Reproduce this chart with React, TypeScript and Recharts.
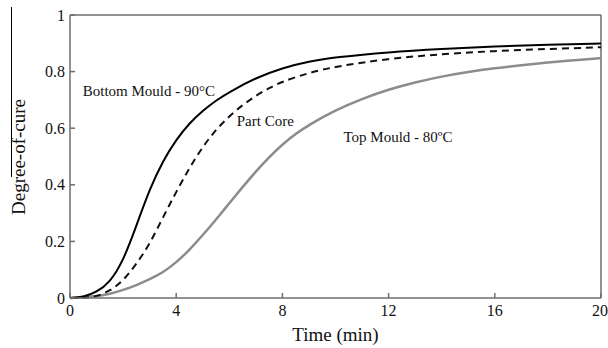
import {
  LineChart,
  Line,
  XAxis,
  YAxis,
  ReferenceLine,
  ReferenceDot,
  Label,
} from "recharts";

// time (min) and degree-of-cure
const bottomTime = [0, 0.5, 1, 1.5, 2, 2.5, 3, 3.5, 4, 4.5, 5, 5.5, 6, 7, 8, 9, 10, 12, 14, 16, 18, 20];
const bottomCure = [0, 0.003, 0.02, 0.055, 0.13, 0.255, 0.385, 0.485, 0.56, 0.618, 0.662, 0.698, 0.728, 0.778, 0.813, 0.836, 0.851, 0.869, 0.88, 0.889, 0.895, 0.899];

const coreTime = [0, 0.5, 1, 1.5, 2, 2.5, 3, 3.5, 4, 4.5, 5, 5.5, 6, 6.5, 7, 7.5, 8, 9, 10, 12, 14, 16, 18, 20];
const coreCure = [0, 0, 0.005, 0.025, 0.06, 0.12, 0.19, 0.285, 0.375, 0.46, 0.535, 0.595, 0.643, 0.682, 0.715, 0.742, 0.765, 0.796, 0.818, 0.846, 0.862, 0.873, 0.88, 0.886];

const topTime = [0, 1, 1.5, 2, 2.5, 3, 3.5, 4, 4.5, 5, 5.5, 6, 6.5, 7, 7.5, 8, 8.5, 9, 10, 11, 12, 13, 14, 15, 16, 17, 18, 19, 20];
const topCure = [0, 0.006, 0.014, 0.028, 0.045, 0.066, 0.09, 0.125, 0.17, 0.222, 0.277, 0.335, 0.392, 0.447, 0.498, 0.543, 0.58, 0.612, 0.664, 0.704, 0.737, 0.762, 0.783, 0.799, 0.812, 0.823, 0.832, 0.84, 0.848];

const xTicks = [0, 4, 8, 12, 16, 20];
const yTicks = [0, 0.2, 0.4, 0.6, 0.8, 1];

const zip = (t: number[], v: number[]) => t.map((x, i) => ({ t: x, v: v[i] }));

const bottomData = zip(bottomTime, bottomCure);
const coreData = zip(coreTime, coreCure);
const topData = zip(topTime, topCure);

const FONT = "'Liberation Serif', 'Times New Roman', serif";
const AXIS = "#6e6e6e";

const note = (text: string) => (props: any) => {
  const { viewBox } = props;
  return (
    <text
      x={viewBox.x}
      y={viewBox.y}
      fontFamily="Liberation Serif"
      fontSize={15}
      fill="#111"
      dominantBaseline="central"
    >
      {text}
    </text>
  );
};

export default function App() {
  return (
    <div
      style={{
        position: "absolute",
        left: 0,
        top: 0,
        width: 608,
        height: 348,
        background: "#fff",
      }}
    >
      <div
        style={{
          position: "absolute",
          left: 11,
          top: 7,
          width: 1,
          height: 170,
          background: "#000",
        }}
      />
      <LineChart
        width={608}
        height={348}
        margin={{ top: 15, right: 7, left: 0, bottom: 0 }}
      >
        <XAxis
          type="number"
          dataKey="t"
          domain={[0, 20]}
          ticks={xTicks}
          allowDataOverflow
          height={50}
          stroke={AXIS}
          strokeWidth={1.5}
          tickSize={-5}
          tickMargin={12}
          tick={{ fill: "#111", fontFamily: FONT, fontSize: 16 }}
        >
          <Label
            content={(props: any) => (
              <text
                x={props.viewBox.x + props.viewBox.width / 2}
                y={334}
                textAnchor="middle"
                dominantBaseline="central"
                style={{ fontFamily: FONT, fontSize: 19 }}
                fill="#111"
              >
                Time (min)
              </text>
            )}
          />
        </XAxis>
        <YAxis
          type="number"
          domain={[0, 1]}
          ticks={yTicks}
          width={70}
          stroke={AXIS}
          strokeWidth={1.5}
          tickSize={-5}
          tickMargin={10}
          tick={{ fill: "#111", fontFamily: FONT, fontSize: 16 }}
        >
          <Label
            content={() => (
              <text
                x={18}
                y={157}
                transform="rotate(-90, 18, 157)"
                textAnchor="middle"
                dominantBaseline="central"
                style={{ fontFamily: FONT, fontSize: 19 }}
                fill="#111"
              >
                Degree-of-cure
              </text>
            )}
          />
        </YAxis>
        <ReferenceLine y={1} stroke={AXIS} strokeWidth={1.5} />
        <ReferenceLine x={20} stroke={AXIS} strokeWidth={1.5} />
        <Line
          data={topData}
          dataKey="v"
          type="basis"
          stroke="#8c8c8c"
          strokeWidth={2.5}
          dot={false}
          isAnimationActive={false}
        />
        <Line
          data={coreData}
          dataKey="v"
          type="basis"
          stroke="#111"
          strokeWidth={2}
          strokeDasharray="7 5"
          dot={false}
          isAnimationActive={false}
        />
        <Line
          data={bottomData}
          dataKey="v"
          type="basis"
          stroke="#000"
          strokeWidth={2}
          dot={false}
          isAnimationActive={false}
        />
        <ReferenceDot x={0.48} y={0.733} r={0} stroke="none" label={note("Bottom Mould - 90°C")} />
        <ReferenceDot x={6.28} y={0.626} r={0} stroke="none" label={note("Part Core")} />
        <ReferenceDot x={10.3} y={0.57} r={0} stroke="none" label={note("Top Mould - 80ºC")} />
      </LineChart>
    </div>
  );
}
